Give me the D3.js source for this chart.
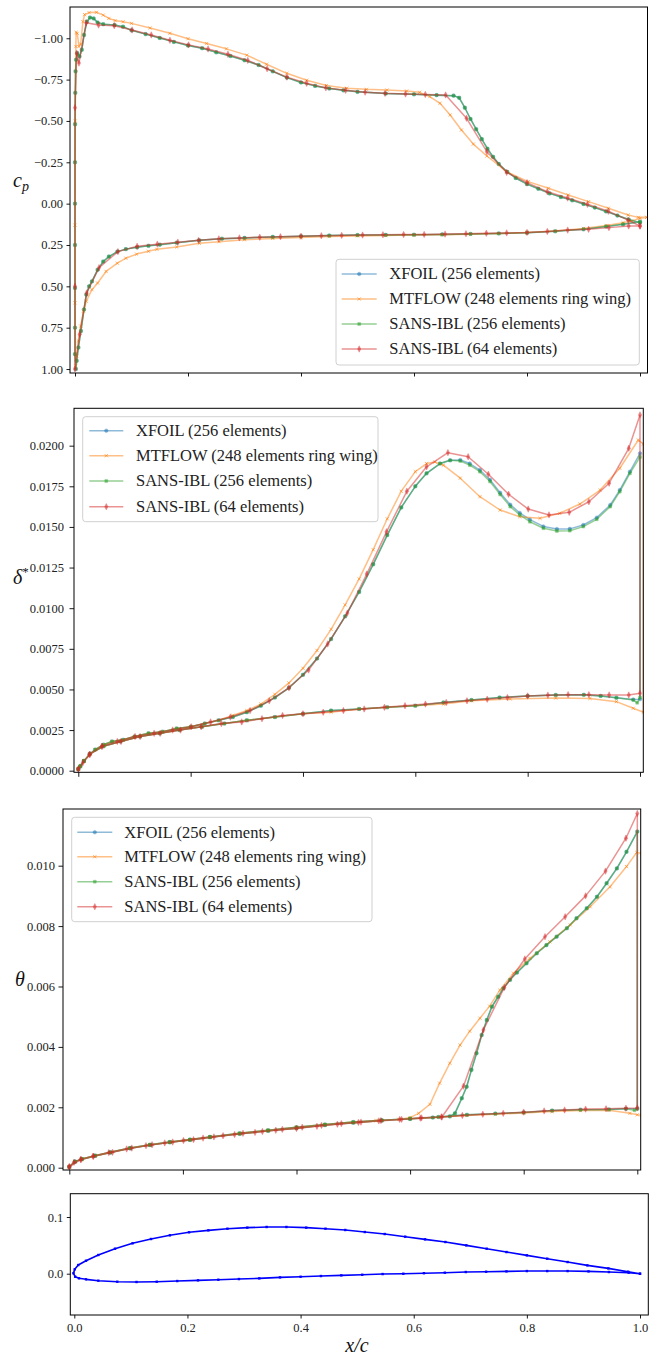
<!DOCTYPE html>
<html><head><meta charset="utf-8">
<script src="https://cdn.jsdelivr.net/npm/d3@7"></script>
<style>
body{margin:0;background:#fff;}
svg{display:block;}
</style></head><body>
<svg id="chart" width="649" height="1360"></svg>
<script>
// ---------------- DATA ----------------
const seriesNames = ["XFOIL (256 elements)", "MTFLOW (248 elements ring wing)", "SANS-IBL (256 elements)", "SANS-IBL (64 elements)"];

const xTicks = [0, 0.2, 0.4, 0.6, 0.8, 1.0];
const cpTicks = [-1.0, -0.75, -0.5, -0.25, 0, 0.25, 0.5, 0.75, 1.0];
const dstarTicks = [0, 0.0025, 0.005, 0.0075, 0.01, 0.0125, 0.015, 0.0175, 0.02];
const thetaTicks = [0, 0.002, 0.004, 0.006, 0.008, 0.010];
const foilTicks = [0.0, 0.1];

// ---- pressure coefficient, points [x/c, cp], from leading edge to trailing edge
const cpSans256Upper = [[0.0000,0.91],[0.0000,0.75],[0.0000,0.51],[0.0000,0.25],[0.0000,0.00],[0.0000,-0.25],[0.0002,-0.48],[0.0005,-0.67],[0.0010,-0.80],[0.0020,-0.87],[0.0040,-0.91],[0.0080,-0.89],[0.0120,-0.93],[0.0160,-1.02],[0.0210,-1.10],[0.0265,-1.125],[0.0330,-1.12],[0.0400,-1.095],[0.0500,-1.085],[0.0700,-1.080],[0.0850,-1.070],[0.1000,-1.048],[0.1250,-1.025],[0.1500,-1.002],[0.1750,-0.978],[0.2000,-0.956],[0.2250,-0.940],[0.2500,-0.915],[0.2750,-0.893],[0.3000,-0.867],[0.3250,-0.838],[0.3500,-0.800],[0.3750,-0.762],[0.4000,-0.733],[0.4250,-0.712],[0.4500,-0.696],[0.4750,-0.685],[0.5000,-0.676],[0.5500,-0.666],[0.6000,-0.661],[0.6400,-0.656],[0.6700,-0.653],[0.6800,-0.640],[0.6900,-0.580],[0.7000,-0.512],[0.7100,-0.450],[0.7200,-0.390],[0.7300,-0.332],[0.7400,-0.283],[0.7500,-0.240],[0.7650,-0.192],[0.7800,-0.155],[0.8000,-0.118],[0.8200,-0.090],[0.8400,-0.062],[0.8600,-0.040],[0.8800,-0.020],[0.9000,0.002],[0.9200,0.024],[0.9400,0.047],[0.9600,0.072],[0.9800,0.096],[1.0000,0.115]];
const cpSans256Lower = [[0.0015,1.00],[0.0030,0.95],[0.0060,0.87],[0.0105,0.77],[0.0160,0.64],[0.0200,0.55],[0.0250,0.50],[0.0300,0.47],[0.0400,0.40],[0.0500,0.35],[0.0600,0.32],[0.0750,0.29],[0.0900,0.275],[0.1100,0.264],[0.1300,0.255],[0.1500,0.248],[0.1800,0.236],[0.2200,0.222],[0.2600,0.212],[0.3000,0.207],[0.3500,0.201],[0.4000,0.197],[0.4500,0.193],[0.5000,0.190],[0.5500,0.189],[0.6000,0.188],[0.6500,0.186],[0.7000,0.183],[0.7500,0.180],[0.8000,0.176],[0.8500,0.167],[0.9000,0.155],[0.9400,0.138],[0.9700,0.125],[1.0000,0.109]];
const cpXfoilUpper = [[0.0000,0.91],[0.0000,0.75],[0.0000,0.51],[0.0000,0.25],[0.0000,0.00],[0.0000,-0.25],[0.0002,-0.48],[0.0005,-0.67],[0.0010,-0.80],[0.0020,-0.87],[0.0040,-0.91],[0.0080,-0.89],[0.0120,-0.93],[0.0160,-1.02],[0.0210,-1.10],[0.0265,-1.125],[0.0330,-1.12],[0.0400,-1.095],[0.0500,-1.085],[0.0700,-1.080],[0.0850,-1.070],[0.1000,-1.048],[0.1250,-1.025],[0.1500,-1.002],[0.1750,-0.978],[0.2000,-0.956],[0.2250,-0.940],[0.2500,-0.915],[0.2750,-0.893],[0.3000,-0.867],[0.3250,-0.838],[0.3500,-0.800],[0.3750,-0.762],[0.4000,-0.733],[0.4250,-0.712],[0.4500,-0.696],[0.4750,-0.685],[0.5000,-0.676],[0.5500,-0.666],[0.6000,-0.661],[0.6400,-0.656],[0.6700,-0.653],[0.6800,-0.640],[0.6900,-0.580],[0.7000,-0.512],[0.7100,-0.450],[0.7200,-0.390],[0.7300,-0.332],[0.7400,-0.283],[0.7500,-0.240],[0.7650,-0.192],[0.7800,-0.155],[0.8000,-0.118],[0.8200,-0.090],[0.8400,-0.062],[0.8600,-0.040],[0.8800,-0.020],[0.9000,0.002],[0.9200,0.024],[0.9400,0.047],[0.9600,0.072],[0.9800,0.096],[1.0000,0.115]];
const cpXfoilLower = [[0.0015,1.00],[0.0030,0.95],[0.0060,0.87],[0.0105,0.77],[0.0160,0.64],[0.0200,0.55],[0.0250,0.50],[0.0300,0.47],[0.0400,0.40],[0.0500,0.35],[0.0600,0.32],[0.0750,0.29],[0.0900,0.275],[0.1100,0.264],[0.1300,0.255],[0.1500,0.248],[0.1800,0.236],[0.2200,0.222],[0.2600,0.212],[0.3000,0.207],[0.3500,0.201],[0.4000,0.197],[0.4500,0.193],[0.5000,0.190],[0.5500,0.189],[0.6000,0.188],[0.6500,0.186],[0.7000,0.183],[0.7500,0.180],[0.8000,0.176],[0.8500,0.167],[0.9000,0.155],[0.9400,0.138],[0.9700,0.125],[1.0000,0.109]];
const cpSans64Upper = [[0.0000,0.50],[0.0000,-0.58],[0.0030,-0.91],[0.0070,-0.85],[0.0198,-1.094],[0.0417,-1.080],[0.0695,-1.076],[0.1010,-1.050],[0.1350,-1.020],[0.1680,-0.988],[0.2010,-0.960],[0.2355,-0.935],[0.2707,-0.903],[0.3058,-0.866],[0.3400,-0.816],[0.3750,-0.765],[0.4100,-0.728],[0.4440,-0.700],[0.4790,-0.685],[0.5135,-0.674],[0.5487,-0.667],[0.5850,-0.663],[0.6200,-0.660],[0.6560,-0.657],[0.6930,-0.516],[0.7290,-0.314],[0.7640,-0.189],[0.8000,-0.127],[0.8360,-0.072],[0.8720,-0.034],[0.9070,0.004],[0.9440,0.046],[0.9790,0.100],[1.0000,0.135]];
const cpSans64Lower = [[0.0000,1.00],[0.0083,0.79],[0.0207,0.54],[0.0425,0.387],[0.0760,0.290],[0.1100,0.258],[0.1457,0.245],[0.1820,0.233],[0.2187,0.222],[0.2546,0.213],[0.2910,0.207],[0.3270,0.203],[0.3636,0.200],[0.4000,0.197],[0.4360,0.194],[0.4720,0.192],[0.5090,0.190],[0.5450,0.188],[0.5816,0.187],[0.6180,0.186],[0.6550,0.184],[0.6920,0.182],[0.7280,0.179],[0.7640,0.177],[0.8000,0.174],[0.8360,0.168],[0.8720,0.160],[0.9090,0.155],[0.9450,0.145],[0.9800,0.135],[1.0000,0.135]];
const cpMtflowUpper = [[0.0000,0.60],[0.0000,0.13],[0.0005,-0.50],[0.0015,-0.95],[0.0020,-1.036],[0.0040,-1.030],[0.0070,-0.950],[0.0100,-0.965],[0.0140,-1.100],[0.0170,-1.143],[0.0250,-1.155],[0.0380,-1.157],[0.0500,-1.140],[0.0600,-1.120],[0.0710,-1.107],[0.0850,-1.100],[0.1000,-1.090],[0.1330,-1.062],[0.1680,-1.030],[0.2000,-0.997],[0.2330,-0.968],[0.2680,-0.936],[0.3040,-0.898],[0.3390,-0.843],[0.3750,-0.788],[0.4100,-0.746],[0.4450,-0.714],[0.4810,-0.698],[0.5160,-0.691],[0.5520,-0.687],[0.5870,-0.681],[0.6100,-0.673],[0.6280,-0.647],[0.6460,-0.607],[0.6640,-0.536],[0.6840,-0.445],[0.7050,-0.360],[0.7290,-0.288],[0.7640,-0.193],[0.8020,-0.133],[0.8380,-0.093],[0.8730,-0.052],[0.9090,-0.012],[0.9440,0.028],[0.9790,0.069],[0.9970,0.083],[1.0120,0.083]];
const cpMtflowLower = [[0.0010,0.98],[0.0030,0.92],[0.0060,0.83],[0.0100,0.74],[0.0150,0.65],[0.0200,0.59],[0.0300,0.52],[0.0400,0.48],[0.0550,0.41],[0.0750,0.36],[0.0900,0.33],[0.1090,0.305],[0.1300,0.288],[0.1450,0.276],[0.1800,0.262],[0.2200,0.240],[0.2550,0.230],[0.3000,0.218],[0.3500,0.210],[0.4000,0.204],[0.4500,0.199],[0.5000,0.195],[0.5500,0.193],[0.6000,0.190],[0.6500,0.188],[0.7000,0.185],[0.7500,0.181],[0.8000,0.175],[0.8500,0.166],[0.9000,0.150],[0.9400,0.132],[0.9700,0.115],[0.9850,0.105],[1.0000,0.089],[1.0120,0.083]];

// ---- displacement thickness, points [x/c, delta*]
const dsSans256Upper = [[0.0000,0.0001],[0.0040,0.0003],[0.0100,0.0006],[0.0200,0.0010],[0.0300,0.0013],[0.0450,0.0016],[0.0600,0.0018],[0.0800,0.0019],[0.1000,0.0021],[0.1250,0.0023],[0.1500,0.0024],[0.1750,0.0026],[0.2000,0.0027],[0.2250,0.0029],[0.2500,0.0031],[0.2750,0.0033],[0.3000,0.0036],[0.3250,0.0040],[0.3500,0.0045],[0.3750,0.0051],[0.4000,0.0059],[0.4250,0.0069],[0.4500,0.0081],[0.4750,0.0095],[0.5000,0.0110],[0.5250,0.0127],[0.5500,0.0145],[0.5750,0.0162],[0.6000,0.0175],[0.6200,0.0183],[0.6440,0.0189],[0.6620,0.0191],[0.6800,0.01906],[0.6970,0.0188],[0.7150,0.0184],[0.7330,0.0178],[0.7510,0.0170],[0.7690,0.01625],[0.7860,0.01574],[0.8040,0.01532],[0.8280,0.01492],[0.8520,0.01475],[0.8750,0.01477],[0.8990,0.01502],[0.9230,0.01547],[0.9470,0.01625],[0.9640,0.01717],[0.9820,0.0183],[1.0000,0.0193]];
const dsSans256Lower = [[0.0000,0.0001],[0.0030,0.00025],[0.0100,0.0006],[0.0210,0.00105],[0.0450,0.0015],[0.0750,0.0018],[0.1100,0.0021],[0.1450,0.0023],[0.1800,0.0025],[0.2200,0.0027],[0.2600,0.0029],[0.3000,0.0031],[0.3500,0.0033],[0.4000,0.0035],[0.4500,0.0037],[0.5000,0.0038],[0.5500,0.0039],[0.6000,0.0040],[0.6500,0.0042],[0.7000,0.00435],[0.7500,0.0045],[0.8000,0.0046],[0.8500,0.00466],[0.9000,0.00467],[0.9300,0.0046],[0.9580,0.00449],[0.9880,0.00435],[0.9950,0.00418],[1.0000,0.0045]];
const dsXfoilUpper = [[0.0000,0.0001],[0.0040,0.0003],[0.0100,0.0006],[0.0200,0.0010],[0.0300,0.0013],[0.0450,0.0016],[0.0600,0.0018],[0.0800,0.0019],[0.1000,0.0021],[0.1250,0.0023],[0.1500,0.0024],[0.1750,0.0026],[0.2000,0.0027],[0.2250,0.0029],[0.2500,0.0031],[0.2750,0.0033],[0.3000,0.0036],[0.3250,0.0040],[0.3500,0.0045],[0.3750,0.0051],[0.4000,0.0059],[0.4250,0.0069],[0.4500,0.0081],[0.4750,0.0095],[0.5000,0.0110],[0.5250,0.0127],[0.5500,0.0145],[0.5750,0.0162],[0.6000,0.0175],[0.6200,0.0183],[0.6440,0.0189],[0.6620,0.0191],[0.6800,0.01912],[0.6970,0.0189],[0.7150,0.0185],[0.7330,0.0179],[0.7510,0.0171],[0.7690,0.01637],[0.7860,0.01586],[0.8040,0.01545],[0.8280,0.01503],[0.8520,0.01487],[0.8750,0.01488],[0.8990,0.01512],[0.9230,0.01557],[0.9470,0.01635],[0.9640,0.01727],[0.9820,0.0184],[1.0000,0.01953]];
const dsXfoilLower = [[0.0000,0.0001],[0.0030,0.00025],[0.0100,0.0006],[0.0210,0.00105],[0.0450,0.0015],[0.0750,0.0018],[0.1100,0.0021],[0.1450,0.0023],[0.1800,0.0025],[0.2200,0.0027],[0.2600,0.0029],[0.3000,0.0031],[0.3500,0.0033],[0.4000,0.0035],[0.4500,0.0037],[0.5000,0.0038],[0.5500,0.0039],[0.6000,0.0040],[0.6500,0.0042],[0.7000,0.00435],[0.7500,0.0045],[0.8000,0.0046],[0.8500,0.00466],[0.9000,0.00467],[0.9300,0.0046],[0.9580,0.00449],[0.9880,0.00438],[1.0000,0.0044]];
const dsSans64Upper = [[0.0000,0.0001],[0.0198,0.0010],[0.0417,0.0015],[0.0695,0.0018],[0.1010,0.0021],[0.1350,0.0023],[0.1680,0.0025],[0.2010,0.0027],[0.2355,0.0030],[0.2707,0.0033],[0.3058,0.0037],[0.3400,0.0043],[0.3750,0.0051],[0.4100,0.0062],[0.4440,0.0078],[0.4790,0.0097],[0.5135,0.0121],[0.5487,0.0147],[0.5850,0.0172],[0.6200,0.0187],[0.6580,0.01957],[0.6940,0.01932],[0.7300,0.01824],[0.7660,0.01701],[0.8010,0.0161],[0.8380,0.01574],[0.8740,0.0159],[0.9090,0.01655],[0.9450,0.01769],[0.9800,0.01984],[1.0000,0.02189]];
const dsSans64Lower = [[0.0000,0.0001],[0.0083,0.0005],[0.0207,0.0010],[0.0425,0.0015],[0.0760,0.0018],[0.1100,0.0021],[0.1457,0.0023],[0.1820,0.0025],[0.2187,0.0027],[0.2546,0.0029],[0.2910,0.0030],[0.3270,0.0032],[0.3636,0.0034],[0.4000,0.0035],[0.4360,0.0036],[0.4720,0.0037],[0.5090,0.0038],[0.5450,0.0039],[0.5816,0.0040],[0.6180,0.0041],[0.6550,0.0042],[0.6920,0.0043],[0.7280,0.0044],[0.7640,0.0045],[0.8000,0.0046],[0.8360,0.00465],[0.8720,0.00468],[0.9090,0.00468],[0.9450,0.00466],[0.9800,0.00466],[1.0000,0.00476]];
const dsMtflowUpper = [[0.0000,0.0001],[0.0040,0.0003],[0.0100,0.0006],[0.0200,0.0010],[0.0300,0.0013],[0.0450,0.0016],[0.0600,0.0018],[0.0800,0.0019],[0.1000,0.0021],[0.1250,0.0023],[0.1500,0.0024],[0.1750,0.0026],[0.2000,0.0027],[0.2250,0.0029],[0.2500,0.0031],[0.2750,0.0034],[0.3000,0.0037],[0.3250,0.0041],[0.3500,0.0047],[0.3750,0.0054],[0.4000,0.0063],[0.4250,0.0074],[0.4500,0.0087],[0.4750,0.0102],[0.5000,0.0118],[0.5250,0.0136],[0.5500,0.0155],[0.5750,0.0172],[0.6000,0.0184],[0.6200,0.0189],[0.6350,0.0190],[0.6500,0.0188],[0.6800,0.0180],[0.7150,0.01686],[0.7510,0.01604],[0.7860,0.01563],[0.8220,0.01553],[0.8570,0.01584],[0.8930,0.01641],[0.9290,0.01727],[0.9640,0.01861],[0.9970,0.02035],[1.0060,0.0201]];
const dsMtflowLower = [[0.0000,0.0001],[0.0030,0.00025],[0.0100,0.0006],[0.0210,0.00105],[0.0450,0.0015],[0.0750,0.0018],[0.1100,0.0021],[0.1450,0.0023],[0.1800,0.0025],[0.2200,0.0027],[0.2600,0.0029],[0.3000,0.0031],[0.3500,0.0033],[0.4000,0.0035],[0.4500,0.0036],[0.5000,0.0038],[0.5500,0.0039],[0.6000,0.0040],[0.6500,0.0041],[0.7000,0.0043],[0.7690,0.00441],[0.8500,0.00447],[0.9110,0.00445],[0.9580,0.00425],[0.9880,0.00384],[1.0060,0.0036]];

// ---- momentum thickness, points [x/c, theta]
const thSans256Upper = [[0.0000,0.00003],[0.0100,0.0002],[0.0220,0.00029],[0.0450,0.0004],[0.0720,0.00051],[0.1070,0.00065],[0.1420,0.00076],[0.1770,0.00085],[0.2125,0.00093],[0.2477,0.00102],[0.3000,0.00114],[0.3500,0.00124],[0.4000,0.00134],[0.4500,0.00143],[0.5000,0.00151],[0.5500,0.00157],[0.6000,0.00162],[0.6400,0.00166],[0.6700,0.0017],[0.6790,0.0018],[0.6910,0.0023],[0.6996,0.00268],[0.7080,0.00324],[0.7170,0.00379],[0.7260,0.00439],[0.7350,0.00489],[0.7440,0.00533],[0.7550,0.00566],[0.7640,0.00594],[0.7760,0.00622],[0.7880,0.00646],[0.8050,0.00677],[0.8230,0.0071],[0.8400,0.00737],[0.8580,0.00765],[0.8760,0.00793],[0.8930,0.00826],[0.9110,0.00859],[0.9290,0.00897],[0.9460,0.00942],[0.9640,0.00991],[0.9810,0.01046],[1.0000,0.01113]];
const thSans256Lower = [[0.0000,0.00003],[0.0100,0.0002],[0.0220,0.00028],[0.0450,0.00039],[0.0720,0.0005],[0.1070,0.00064],[0.1420,0.00075],[0.1770,0.00084],[0.2125,0.00092],[0.2477,0.00101],[0.3000,0.00112],[0.3500,0.00122],[0.4000,0.00131],[0.4500,0.00141],[0.5000,0.00149],[0.5500,0.00156],[0.6000,0.00162],[0.6500,0.00168],[0.7000,0.00175],[0.7500,0.00179],[0.8000,0.00183],[0.8500,0.00189],[0.9000,0.00192],[0.9500,0.00193],[0.9800,0.00195],[0.9950,0.0019],[1.0000,0.00195]];
const thXfoilUpper = [[0.0000,0.00003],[0.0100,0.0002],[0.0220,0.00029],[0.0450,0.0004],[0.0720,0.00051],[0.1070,0.00065],[0.1420,0.00076],[0.1770,0.00085],[0.2125,0.00093],[0.2477,0.00102],[0.3000,0.00114],[0.3500,0.00124],[0.4000,0.00134],[0.4500,0.00143],[0.5000,0.00151],[0.5500,0.00157],[0.6000,0.00162],[0.6400,0.00166],[0.6700,0.0017],[0.6790,0.0018],[0.6910,0.0023],[0.6996,0.00268],[0.7080,0.00324],[0.7170,0.00379],[0.7260,0.00439],[0.7350,0.00489],[0.7440,0.00533],[0.7550,0.00566],[0.7640,0.00594],[0.7760,0.00622],[0.7880,0.00646],[0.8050,0.00677],[0.8230,0.0071],[0.8400,0.00737],[0.8580,0.00765],[0.8760,0.00793],[0.8930,0.00826],[0.9110,0.00859],[0.9290,0.00897],[0.9460,0.00942],[0.9640,0.00991],[0.9810,0.01046],[1.0000,0.01113]];
const thXfoilLower = [[0.0000,0.00003],[0.0100,0.0002],[0.0220,0.00028],[0.0450,0.00039],[0.0720,0.0005],[0.1070,0.00064],[0.1420,0.00075],[0.1770,0.00084],[0.2125,0.00092],[0.2477,0.00101],[0.3000,0.00112],[0.3500,0.00122],[0.4000,0.00131],[0.4500,0.00141],[0.5000,0.00149],[0.5500,0.00156],[0.6000,0.00162],[0.6500,0.00168],[0.7000,0.00175],[0.7500,0.00179],[0.8000,0.00183],[0.8500,0.00189],[0.9000,0.00192],[0.9500,0.00193],[0.9800,0.00195],[1.0000,0.00196]];
const thSans64Upper = [[0.0000,0.00003],[0.0198,0.00027],[0.0417,0.00038],[0.0695,0.0005],[0.1010,0.00062],[0.1350,0.00073],[0.1680,0.00082],[0.2010,0.0009],[0.2355,0.00098],[0.2707,0.00106],[0.3058,0.00114],[0.3400,0.0012],[0.3750,0.00127],[0.4100,0.00134],[0.4440,0.0014],[0.4790,0.00146],[0.5135,0.00151],[0.5487,0.00156],[0.5850,0.0016],[0.6200,0.00165],[0.6560,0.00168],[0.6940,0.0027],[0.7290,0.00456],[0.7660,0.00597],[0.8020,0.00691],[0.8375,0.00765],[0.8730,0.00831],[0.9090,0.0090],[0.9440,0.00982],[0.9800,0.01091],[1.0000,0.01173]];
const thSans64Lower = [[0.0000,0.00003],[0.0083,0.00018],[0.0207,0.00027],[0.0425,0.00038],[0.0760,0.00051],[0.1100,0.00065],[0.1457,0.00076],[0.1820,0.00085],[0.2187,0.00093],[0.2546,0.00102],[0.2910,0.0011],[0.3270,0.00117],[0.3636,0.00124],[0.4000,0.0013],[0.4360,0.00137],[0.4720,0.00144],[0.5090,0.0015],[0.5450,0.00155],[0.5816,0.0016],[0.6180,0.00164],[0.6550,0.00168],[0.6920,0.00173],[0.7280,0.00177],[0.7640,0.0018],[0.8000,0.00184],[0.8360,0.00188],[0.8720,0.00191],[0.9090,0.00194],[0.9450,0.00195],[0.9800,0.00197],[1.0000,0.00198]];
const thMtflowUpper = [[0.0000,0.00003],[0.0100,0.0002],[0.0220,0.00029],[0.0450,0.0004],[0.0720,0.00051],[0.1070,0.00065],[0.1420,0.00076],[0.1770,0.00085],[0.2125,0.00093],[0.2477,0.00102],[0.3000,0.00114],[0.3500,0.00124],[0.4000,0.00134],[0.4500,0.00143],[0.5000,0.00151],[0.5400,0.00156],[0.5800,0.0016],[0.6000,0.00166],[0.6150,0.0018],[0.6350,0.0021],[0.6520,0.0028],[0.6700,0.00346],[0.6880,0.00406],[0.7050,0.00452],[0.7230,0.00495],[0.7400,0.00535],[0.7580,0.00588],[0.7820,0.00644],[0.8110,0.00693],[0.8460,0.00748],[0.8820,0.00804],[0.9170,0.00864],[0.9520,0.0093],[0.9810,0.00997],[0.9990,0.01044],[1.0080,0.01041]];
const thMtflowLower = [[0.0000,0.00003],[0.0100,0.0002],[0.0220,0.00028],[0.0450,0.00039],[0.0720,0.0005],[0.1070,0.00064],[0.1420,0.00075],[0.1770,0.00084],[0.2125,0.00092],[0.2477,0.00101],[0.3000,0.00112],[0.3500,0.00122],[0.4000,0.00131],[0.4500,0.00141],[0.5000,0.00149],[0.5500,0.00156],[0.6000,0.00162],[0.6500,0.00167],[0.7000,0.00173],[0.7500,0.00177],[0.8000,0.00181],[0.8500,0.00186],[0.9000,0.00189],[0.9500,0.0019],[0.9870,0.0018],[1.0000,0.00175],[1.0080,0.00173]];

// ---- airfoil geometry, points [x/c, y/c]
const foilUpper = [[-0.0015,0.0008],[0.0008,0.0078],[0.0070,0.0153],[0.0207,0.0229],[0.0425,0.0330],[0.0720,0.0441],[0.1030,0.0536],[0.1356,0.0612],[0.1690,0.0677],[0.2028,0.0730],[0.2370,0.0765],[0.2707,0.0794],[0.3058,0.0812],[0.3400,0.0824],[0.3750,0.0824],[0.4100,0.0812],[0.4440,0.0794],[0.4790,0.0771],[0.5135,0.0735],[0.5487,0.0700],[0.5850,0.0653],[0.6200,0.0606],[0.6560,0.0559],[0.6930,0.0500],[0.7290,0.0441],[0.7640,0.0382],[0.8000,0.0324],[0.8360,0.0265],[0.8720,0.0206],[0.9070,0.0147],[0.9440,0.0094],[0.9790,0.0035],[1.0000,0.0000]];
const foilLower = [[-0.0015,0.0008],[0.0015,-0.0053],[0.0083,-0.0081],[0.0207,-0.0099],[0.0425,-0.0123],[0.0760,-0.0141],[0.1100,-0.0146],[0.1457,-0.0141],[0.1820,-0.0129],[0.2187,-0.0117],[0.2546,-0.0106],[0.2910,-0.0094],[0.3270,-0.0082],[0.3636,-0.0065],[0.4000,-0.0053],[0.4360,-0.0041],[0.4720,-0.0029],[0.5090,-0.0018],[0.5450,-0.0006],[0.5816,0.0000],[0.6180,0.0009],[0.6550,0.0018],[0.6920,0.0030],[0.7280,0.0035],[0.7640,0.0041],[0.8000,0.0047],[0.8360,0.0047],[0.8720,0.0047],[0.9090,0.0041],[0.9450,0.0030],[0.9800,0.0018],[1.0000,0.0000]];

// ---------------- DRAWING ----------------
const SERIF = '"Liberation Serif", "Times New Roman", serif';
const svg = d3.select("#chart");
const seriesColors = ["#1f77b4", "#ff7f0e", "#2ca02c", "#d62728"];
const markerKind = ["circle", "x", "square", "thindiamond"];

function markerPath(kind) {
  switch (kind) {
    case "circle": return d3.symbol(d3.symbolCircle, 10)();
    case "square": return d3.symbol(d3.symbolSquare, 8)();
    case "x": return "M-1.6,-1.6L1.6,1.6M-1.6,1.6L1.6,-1.6";
    case "thindiamond": return "M0,-3.2L1.6,0L0,3.2L-1.6,0Z";
  }
}

const panels = [
  { id: "cp", frame: {l: 70, r: 647.5, t: 7, b: 373}, xd: [-0.00885, 1.01327], yd: [-1.189, 1.024], invert: true,
    yTicks: cpTicks, fmt: d3.format(".2f"), tickLen: 3.5, pad: 3.5,
    series: [[cpXfoilUpper, cpXfoilLower], [cpMtflowUpper, cpMtflowLower], [cpSans256Upper, cpSans256Lower], [cpSans64Upper, cpSans64Lower]],
    legend: {l: 336, t: 259.3, r: 639.3, b: 365, rows: [274, 299, 324, 349], h0: 341.7, h1: 376.7, tx: 389.3} },
  { id: "ds", frame: {l: 74, r: 643.3, t: 408.3, b: 772.3}, xd: [-0.00766, 1.00587], yd: [-0.0000985, 0.0223], invert: false,
    yTicks: dstarTicks, fmt: d3.format(".4f"), tickLen: 4.5, pad: 5.5,
    series: [[dsXfoilUpper, dsXfoilLower], [dsMtflowUpper, dsMtflowLower], [dsSans256Upper, dsSans256Lower], [dsSans64Upper, dsSans64Lower]],
    legend: {l: 82.7, t: 416.7, r: 378, b: 521.7, rows: [430.7, 455.7, 481, 506.7], h0: 89.3, h1: 123.3, tx: 136} },
  { id: "th", frame: {l: 63, r: 640.7, t: 809, b: 1170}, xd: [-0.0111, 1.00599], yd: [-0.0000762, 0.011877], invert: false,
    yTicks: thetaTicks, fmt: d3.format(".3f"), tickLen: 4.5, pad: 3.5,
    series: [[thXfoilUpper, thXfoilLower], [thMtflowUpper, thMtflowLower], [thSans256Upper, thSans256Lower], [thSans64Upper, thSans64Lower]],
    legend: {l: 71.7, t: 817.3, r: 372, b: 921.7, rows: [832.3, 856.7, 881.7, 906.7], h0: 77.3, h1: 112.3, tx: 124.3} },
  { id: "foil", frame: {l: 70.3, r: 648.3, t: 1193.7, b: 1315}, xd: [-0.00707, 1.01467], yd: [-0.0728, 0.1411], invert: false,
    yTicks: foilTicks, fmt: d3.format(".1f"), tickLen: 3.5, pad: 3.5, xLabels: true }
];

panels.forEach(p => {
  const f = p.frame;
  const x = d3.scaleLinear().domain(p.xd).range([f.l, f.r]);
  const y = d3.scaleLinear().domain(p.yd).range(p.invert ? [f.t, f.b] : [f.b, f.t]);
  const g = svg.append("g");
  const clipId = "clip-" + p.id;
  svg.append("clipPath").attr("id", clipId).append("rect")
    .attr("x", f.l).attr("y", f.t).attr("width", f.r - f.l).attr("height", f.b - f.t);
  const plot = g.append("g").attr("clip-path", `url(#${clipId})`);
  const line = d3.line().x(d => x(d[0])).y(d => y(d[1]));

  if (p.series) {
    p.series.forEach((s, i) => {
      const pts = s[0].slice().reverse().concat(s[1]);
      const closed = pts.concat([pts[0]]);
      const sg = plot.append("g");
      sg.append("path").attr("d", line(closed)).attr("fill", "none")
        .attr("stroke", seriesColors[i]).attr("stroke-width", 1.5).attr("stroke-opacity", 0.5)
        .attr("stroke-linejoin", "round");
      const mk = markerPath(markerKind[i]);
      sg.selectAll("path.m").data(pts).join("path").attr("class", "m")
        .attr("d", mk).attr("transform", d => `translate(${x(d[0])},${y(d[1])})`)
        .attr("fill", markerKind[i] === "x" ? "none" : seriesColors[i])
        .attr("stroke", seriesColors[i]).attr("stroke-width", markerKind[i] === "x" ? 1 : 0.5)
        .attr("opacity", 0.6);
    });
  } else {
    const pts = foilUpper.slice().reverse().concat(foilLower.slice(1));
    plot.append("path").attr("d", line(pts)).attr("fill", "none")
      .attr("stroke", "#0000ff").attr("stroke-width", 1.6).attr("stroke-linejoin", "round");
    plot.selectAll("rect.m").data(pts).join("rect").attr("class", "m")
      .attr("x", d => x(d[0]) - 1.2).attr("y", d => y(d[1]) - 1.2)
      .attr("width", 2.4).attr("height", 2.4).attr("fill", "#0000ff");
  }

  // axes
  const yAxis = d3.axisLeft(y).tickValues(p.yTicks).tickFormat(p.fmt).tickSize(p.tickLen).tickPadding(p.pad);
  const ya = g.append("g").attr("transform", `translate(${f.l},0)`).call(yAxis);
  const xAxis = d3.axisBottom(x).tickValues(xTicks).tickSize(p.tickLen).tickPadding(p.pad + 1)
    .tickFormat(p.xLabels ? d3.format(".1f") : () => "");
  const xa = g.append("g").attr("transform", `translate(0,${f.b})`).call(xAxis);
  [ya, xa].forEach(a => {
    a.select(".domain").remove();
    a.selectAll(".tick line").attr("stroke", "#000").attr("stroke-width", 0.9);
    a.selectAll(".tick text").style("font-family", SERIF)
      .style("font-size", "12.5px").attr("fill", "#222");
  });
  g.append("rect").attr("x", f.l).attr("y", f.t).attr("width", f.r - f.l).attr("height", f.b - f.t)
    .attr("fill", "none").attr("stroke", "#000").attr("stroke-width", 1);

  // legend
  if (p.legend) {
    const L = p.legend;
    const lg = g.append("g");
    lg.append("rect").attr("x", L.l).attr("y", L.t).attr("width", L.r - L.l).attr("height", L.b - L.t)
      .attr("rx", 3).attr("fill", "#fff").attr("fill-opacity", 0.8).attr("stroke", "#d0d0d0").attr("stroke-width", 1);
    seriesNames.forEach((name, i) => {
      const ry = L.rows[i];
      lg.append("line").attr("x1", L.h0).attr("x2", L.h1).attr("y1", ry).attr("y2", ry)
        .attr("stroke", seriesColors[i]).attr("stroke-width", 1.5).attr("stroke-opacity", 0.5);
      lg.append("path").attr("d", markerPath(markerKind[i]))
        .attr("transform", `translate(${(L.h0 + L.h1) / 2},${ry})`)
        .attr("fill", markerKind[i] === "x" ? "none" : seriesColors[i])
        .attr("stroke", seriesColors[i]).attr("stroke-width", markerKind[i] === "x" ? 1 : 0.5).attr("opacity", 0.6);
      lg.append("text").attr("x", L.tx).attr("y", ry).attr("dy", "0.33em")
        .style("font-family", SERIF).style("font-size", "16.5px").attr("fill", "#222").text(name);
    });
  }
});

// axis titles
function title(xp, yp, anchor) {
  return svg.append("text").attr("x", xp).attr("y", yp).attr("text-anchor", anchor || "start")
    .style("font-family", SERIF).style("font-style", "italic").style("font-size", "20px").attr("fill", "#111");
}
const cpT = title(13, 187);
cpT.append("tspan").text("c");
cpT.append("tspan").style("font-size", "14px").attr("dy", 4).text("p");
const dsT = title(13, 584);
dsT.append("tspan").text("δ");
dsT.append("tspan").style("font-size", "13px").style("font-style", "normal").attr("dy", -8).text("*");
title(15, 986).text("θ");
title(357, 1352, "middle").text("x/c");
</script>
</body></html>
